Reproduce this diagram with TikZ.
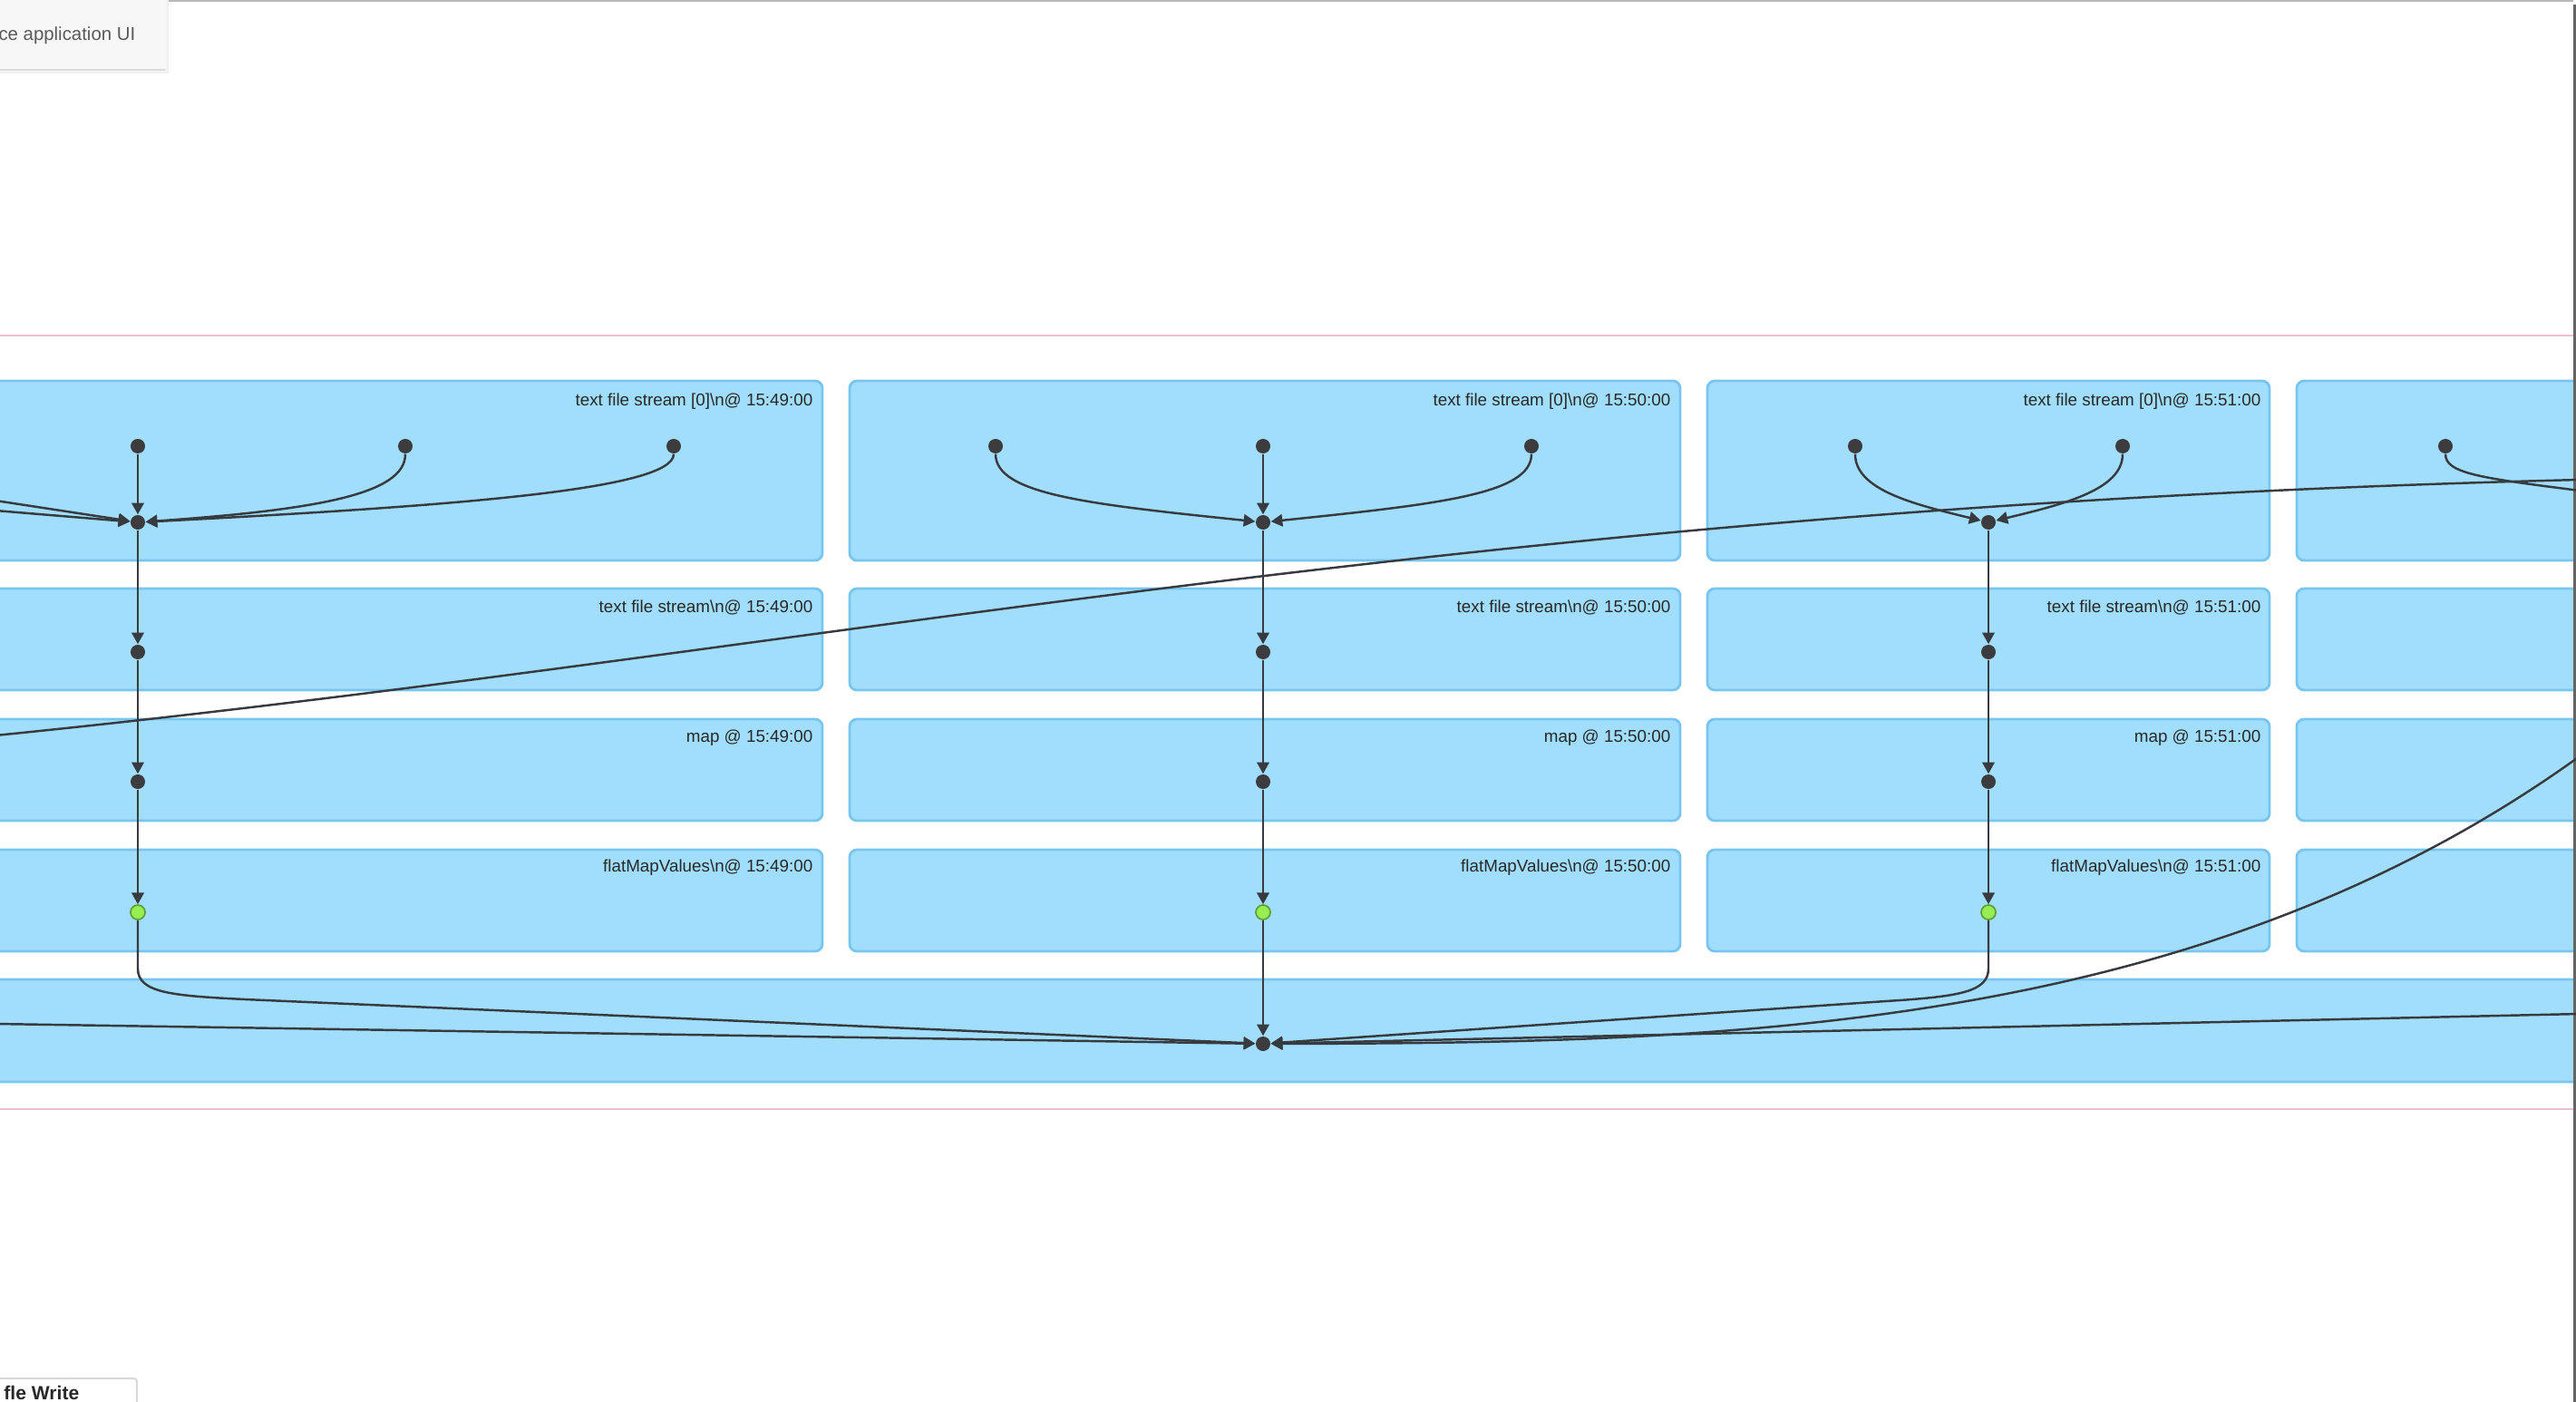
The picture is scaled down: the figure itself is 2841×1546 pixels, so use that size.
\documentclass[tikz,border=0pt]{standalone}
\usepackage{fontspec}
\setmainfont{Liberation Sans}
\usetikzlibrary{arrows.meta}
\definecolor{boxfill}{RGB}{161,222,253}
\definecolor{boxborder}{RGB}{120,198,240}
\definecolor{dotc}{RGB}{60,60,62}
\definecolor{edgec}{RGB}{55,58,62}
\definecolor{labc}{RGB}{40,40,40}
\definecolor{greenfill}{RGB}{150,238,80}
\definecolor{greendraw}{RGB}{95,160,60}
\definecolor{pinkline}{RGB}{240,190,210}
\definecolor{uigray}{RGB}{90,90,90}
\tikzset{
  box/.style={draw=boxborder, fill=boxfill, line width=0.8pt, rounded corners=2.3pt},
  dot/.style={circle, fill=dotc, minimum size=0.16cm, inner sep=0pt},
  gdot/.style={circle, fill=greenfill, draw=greendraw, line width=0.5pt, minimum size=0.16cm, inner sep=0pt},
  edge/.style={draw=edgec, line width=0.7pt, -{Triangle[length=3.6pt,width=3.8pt]}},
  plainedge/.style={draw=edgec, line width=0.7pt},
  lab/.style={anchor=east, text=labc, font=\fontsize{5.35pt}{6pt}\selectfont, inner sep=0pt},
}
\begin{document}
\begin{tikzpicture}[x=0.01cm, y=-0.01cm]
\useasboundingbox (0,0) rectangle (2841,1546);
\clip (0,0) rectangle (2841,1546);
\fill[white] (0,0) rectangle (2841,1546);

% top and right frame lines
\draw[draw={rgb,255:red,185;green,185;blue,185}, line width=0.6pt] (112,1) -- (2838,1);
\draw[draw={rgb,255:red,100;green,100;blue,100}, line width=0.85pt] (2839.5,5) -- (2839.5,1546);

% pink separator lines
\draw[pinkline, line width=0.6pt] (0,370) -- (2838,370);
\draw[pinkline, line width=0.6pt] (0,1223) -- (2838,1223);

% boxes: row 1
\path[box] (-20,420) rectangle (907,618);
\path[box] (937,420) rectangle (1853,618);
\path[box] (1883,420) rectangle (2503,618);
\path[box] (2533,420) rectangle (2860,618);
% row 2
\path[box] (-20,649) rectangle (907,761);
\path[box] (937,649) rectangle (1853,761);
\path[box] (1883,649) rectangle (2503,761);
\path[box] (2533,649) rectangle (2860,761);
% row 3
\path[box] (-20,793) rectangle (907,905);
\path[box] (937,793) rectangle (1853,905);
\path[box] (1883,793) rectangle (2503,905);
\path[box] (2533,793) rectangle (2860,905);
% row 4
\path[box] (-20,937) rectangle (907,1049);
\path[box] (937,937) rectangle (1853,1049);
\path[box] (1883,937) rectangle (2503,1049);
\path[box] (2533,937) rectangle (2860,1049);
% row 5
\path[box] (-20,1080) rectangle (2860,1193);

% redraw right frame line over boxes
\draw[draw={rgb,255:red,100;green,100;blue,100}, line width=0.85pt] (2839.5,5) -- (2839.5,1546);

% labels
\node[lab] (l11) at (897,443) {text file stream [0]\textbackslash n@ 15:49:00};
\node[lab] (l12) at (1843,443) {text file stream [0]\textbackslash n@ 15:50:00};
\node[lab] (l13) at (2494,443) {text file stream [0]\textbackslash n@ 15:51:00};
\node[lab] (l21) at (897,670) {text file stream\textbackslash n@ 15:49:00};
\node[lab] (l22) at (1843,670) {text file stream\textbackslash n@ 15:50:00};
\node[lab] (l23) at (2494,670) {text file stream\textbackslash n@ 15:51:00};
\node[lab] (l31) at (897,814) {map @ 15:49:00};
\node[lab] (l32) at (1843,814) {map @ 15:50:00};
\node[lab] (l33) at (2494,814) {map @ 15:51:00};
\node[lab] (l41) at (897,957) {flatMapValues\textbackslash n@ 15:49:00};
\node[lab] (l42) at (1843,957) {flatMapValues\textbackslash n@ 15:50:00};
\node[lab] (l43) at (2494,957) {flatMapValues\textbackslash n@ 15:51:00};

% dots column 1
\node[dot] (a1) at (152,492) {};
\node[dot] (b1) at (447,492) {};
\node[dot] (c1) at (743,492) {};
\node[dot] (m1) at (152,576) {};
\node[dot] (d1) at (152,719) {};
\node[dot] (e1) at (152,862) {};
\node[gdot] (g1) at (152,1006) {};
% column 2
\node[dot] (a2) at (1098,492) {};
\node[dot] (b2) at (1393,492) {};
\node[dot] (c2) at (1689,492) {};
\node[dot] (m2) at (1393,576) {};
\node[dot] (d2) at (1393,719) {};
\node[dot] (e2) at (1393,862) {};
\node[gdot] (g2) at (1393,1006) {};
% column 3
\node[dot] (a3) at (2046,492) {};
\node[dot] (c3) at (2341,492) {};
\node[dot] (m3) at (2193,576) {};
\node[dot] (d3) at (2193,719) {};
\node[dot] (e3) at (2193,862) {};
\node[gdot] (g3) at (2193,1006) {};
% column 4
\node[dot] (a4) at (2697,492) {};
% bottom merge
\node[dot] (m5) at (1393,1151) {};

% off-picture ends
\coordinate (inL1) at (-5,552);
\coordinate (inL2) at (-5,563);
\coordinate (longS) at (-5,811);
\coordinate (longE) at (2845,529);
\coordinate (a4E) at (2845,541);
\coordinate (rCurve) at (2845,834);
\coordinate (rStr) at (2845,1118);
\coordinate (lStr) at (-5,1129);

% long crossing curve
\draw[plainedge] (longS) .. controls (900,720) and (1600,560) .. (longE);
\draw[plainedge] (a4) .. controls (2697,522) and (2735,527) .. (a4E);

% column 1 edges
\draw[edge] (inL1) -- (m1);
\draw[edge] (inL2) -- (m1);
\draw[edge] (a1) -- (m1);
\draw[edge] (b1) .. controls (447,545) and (350,562) .. (m1);
\draw[edge] (c1) .. controls (743,540) and (500,558) .. (m1);
\draw[edge] (m1) -- (d1);
\draw[edge] (d1) -- (e1);
\draw[edge] (e1) -- (g1);
% column 2 edges
\draw[edge] (a2) .. controls (1098,545) and (1200,556) .. (m2);
\draw[edge] (b2) -- (m2);
\draw[edge] (c2) .. controls (1689,545) and (1586,556) .. (m2);
\draw[edge] (m2) -- (d2);
\draw[edge] (d2) -- (e2);
\draw[edge] (e2) -- (g2);
% column 3 edges
\draw[edge] (a3) .. controls (2046,540) and (2110,556) .. (m3);
\draw[edge] (c3) .. controls (2341,540) and (2276,556) .. (m3);
\draw[edge] (m3) -- (d3);
\draw[edge] (d3) -- (e3);
\draw[edge] (e3) -- (g3);

% into bottom merge
\draw[edge] (lStr) -- (m5);
\draw[edge] (rStr) -- (m5);
\draw[edge] (g1) -- (152,1068) .. controls (152,1095) and (190,1098) .. (270,1102) -- (m5);
\draw[edge] (g3) -- (2193,1068) .. controls (2193,1094) and (2160,1099) .. (2080,1104) -- (m5);
\draw[edge] (g2) -- (m5);
\draw[edge] (rCurve) .. controls (2420,1140) and (1900,1150) .. (m5);

% top-left UI tab
\fill[black!6] (-10,-10) rectangle (186,81);
\fill[black!4] (-10,-10) rectangle (184,79);
\fill[black!3] (-10,-10) rectangle (182,77);
\draw[black!15, line width=0.6pt] (-10,77) -- (182,77);
\node[anchor=base east, text=uigray, inner sep=0pt, font=\fontsize{5.8pt}{7pt}\selectfont] (uitab) at (150,45) {ce application UI};

% bottom-left tab
\draw[black!15, fill=white, line width=0.6pt, rounded corners=1pt] (-10,1560) -- (-10,1520) -- (151,1520) -- (151,1560);
\node[anchor=base east, text=labc, inner sep=0pt, font=\bfseries\fontsize{6pt}{7pt}\selectfont] (shuf) at (88,1543) {fle Write};
\end{tikzpicture}
\end{document}
